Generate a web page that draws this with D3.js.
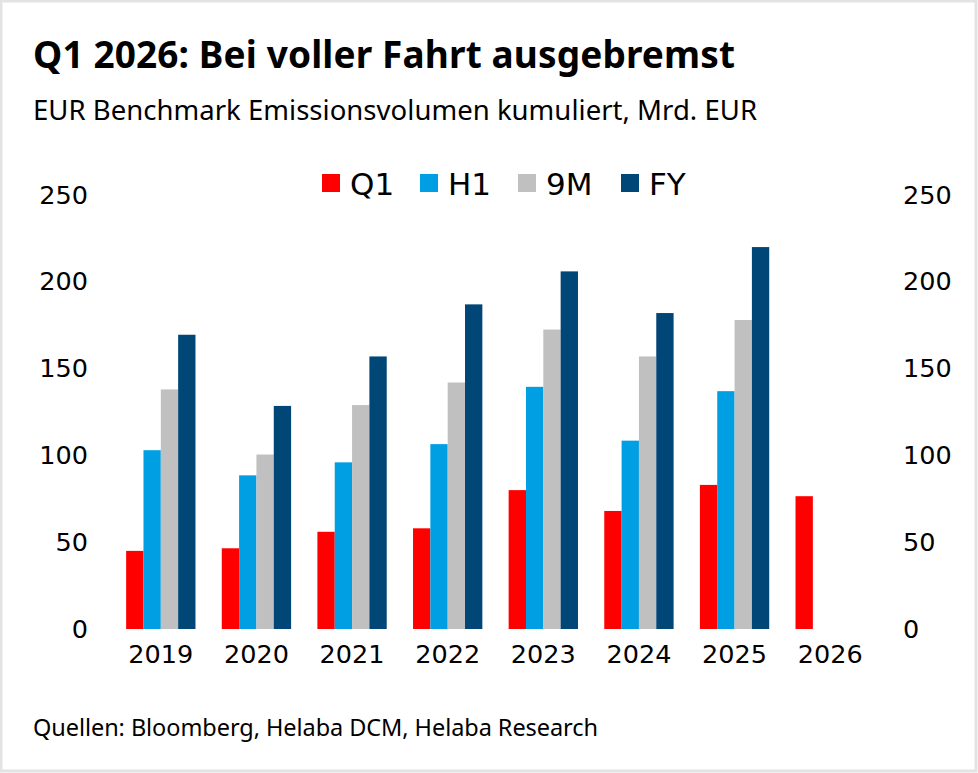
<!DOCTYPE html>
<html>
<head>
<meta charset="utf-8">
<script src="https://cdn.jsdelivr.net/npm/d3@7"></script>
<style>
  html, body { margin: 0; padding: 0; background: #fff; }
  svg { display: block; }
  .tick text { font-family: "DejaVu Sans", sans-serif; }
</style>
</head>
<body>
<svg id="chart" width="978" height="773"></svg>
<script>
// Werte in Mrd. EUR
var years = ["2019", "2020", "2021", "2022", "2023", "2024", "2025", "2026"];
var seriesNames = ["Q1", "H1", "9M", "FY"];
var q1 = [45, 46.5, 56, 58, 80, 68, 83, 76.5];
var h1 = [103, 88.5, 96, 106.5, 139.5, 108.5, 137, null];
var m9 = [138, 100.5, 129, 142, 172.5, 157, 178, null];
var fy = [169.5, 128.5, 157, 187, 206, 182, 220, null];
var yTicks = [0, 50, 100, 150, 200, 250];
var colors = ["#ff0000", "#009fe3", "#c0c0c0", "#004677"];

var values = [q1, h1, m9, fy];

var svg = d3.select("#chart");
var W = 978, H = 773;

// Rahmen
svg.append("rect")
    .attr("x", 1).attr("y", 1)
    .attr("width", W - 3).attr("height", H - 3)
    .attr("fill", "#fff")
    .attr("stroke", "#e3e3e3")
    .attr("stroke-width", 3);

// Titel, Untertitel, Quelle
function label(x, yPos, size, weight, len, txt) {
    svg.append("text")
        .attr("x", x).attr("y", yPos)
        .attr("textLength", len)
        .attr("lengthAdjust", "spacing")
        .style("font-family", "'Noto Sans', sans-serif")
        .style("font-weight", weight)
        .style("font-size", size + "px")
        .attr("fill", "#000")
        .text(txt);
}
label(33, 68, 37, "bold", 702, "Q1 2026: Bei voller Fahrt ausgebremst");
label(33, 120, 27.5, "normal", 724, "EUR Benchmark Emissionsvolumen kumuliert, Mrd. EUR");
label(33, 736, 23.5, "normal", 565, "Quellen: Bloomberg, Helaba DCM, Helaba Research");

// Skalen
var x0 = d3.scaleBand()
    .domain(years)
    .range([113, 878])
    .paddingInner(0.275)
    .paddingOuter(0.1375);

var x1 = d3.scaleBand()
    .domain(seriesNames)
    .range([0, x0.bandwidth()]);

var y = d3.scaleLinear()
    .domain([0, 250])
    .range([629, 195]);

// Achsen (ohne Linien)
var yLeft = svg.append("g")
    .attr("transform", "translate(88,0)")
    .call(d3.axisLeft(y).tickValues(yTicks).tickSize(0).tickPadding(0));
var yRight = svg.append("g")
    .attr("transform", "translate(903,0)")
    .call(d3.axisRight(y).tickValues(yTicks).tickSize(0).tickPadding(0));
var xAxis = svg.append("g")
    .attr("transform", "translate(0,645)")
    .call(d3.axisBottom(x0).tickSize(0).tickPadding(0));

[yLeft, yRight, xAxis].forEach(function(g) {
    g.select(".domain").remove();
    g.selectAll("text")
        .attr("fill", "#000")
        .style("font-size", "25.5px");
});
xAxis.selectAll("text").attr("dy", "0.71em");

// Balken
var groups = svg.append("g").selectAll("g")
    .data(years)
    .join("g")
    .attr("transform", function(d) { return "translate(" + x0(d) + ",0)"; });

groups.selectAll("rect")
    .data(function(d, i) {
        return seriesNames.map(function(s, k) {
            return { key: s, k: k, value: values[k][i] };
        }).filter(function(e) { return e.value != null; });
    })
    .join("rect")
    .attr("x", function(d) { return x1(d.key); })
    .attr("y", function(d) { return y(d.value); })
    .attr("width", x1.bandwidth())
    .attr("height", function(d) { return y(0) - y(d.value); })
    .attr("fill", function(d) { return colors[d.k]; });

// Legende
var legendX = [322, 420, 518, 621];
var legend = svg.append("g").selectAll("g")
    .data(seriesNames)
    .join("g")
    .attr("transform", function(d, i) { return "translate(" + legendX[i] + ",174)"; });

legend.append("rect")
    .attr("width", 18).attr("height", 18)
    .attr("fill", function(d, i) { return colors[i]; });

legend.append("text")
    .attr("x", 28).attr("y", 21)
    .style("font-family", "'DejaVu Sans', sans-serif")
    .style("font-size", "31px")
    .attr("fill", "#000")
    .text(function(d) { return d; });
</script>
</body>
</html>
